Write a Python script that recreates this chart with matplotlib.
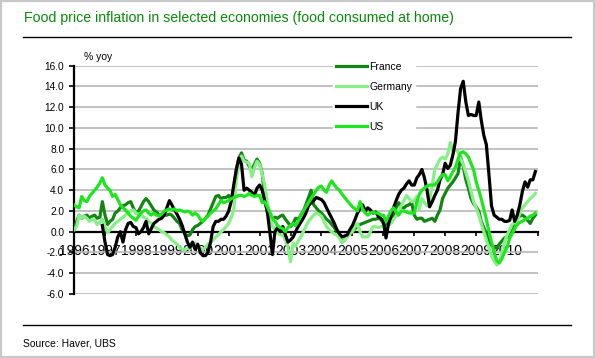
import numpy as np
import pandas as pd
import matplotlib
matplotlib.use("Agg")
import matplotlib.pyplot as plt
from matplotlib.lines import Line2D
from matplotlib.patches import Rectangle

plt.rcParams['font.family'] = ['Liberation Sans', 'DejaVu Sans']

# Monthly food price inflation, % yoy, Jan 1996 - Dec 2010
months = pd.date_range('1996-01-01', periods=180, freq='MS')

france = [
    0.2, 1.0, 1.6, 1.3, 1.5, 1.6, 1.3, 1.5, 1.6, 1.3, 1.4, 2.9,
    1.6, 0.7, 1.0, 1.2, 1.8, 2.0, 2.3, 2.5, 2.6, 2.8, 2.9, 2.3,
    1.8, 2.0, 2.4, 2.9, 3.2, 2.9, 2.5, 2.1, 1.9, 1.6, 1.5, 1.6,
    1.6, 1.7, 1.6, 1.3, 1.0, 0.8, 0.2, -0.2, -0.4, -0.3, 0.2, 0.5,
    0.6, 0.8, 1.0, 1.3, 1.6, 2.2, 2.8, 3.4, 3.5, 3.2, 3.3, 3.3,
    3.5, 3.0, 4.0, 6.0, 7.1, 7.6, 6.9, 6.8, 6.3, 6.0, 6.5, 7.0,
    6.6, 5.6, 3.4, 1.9, 1.3, 1.2, 1.4, 1.3, 1.5, 1.6, 1.2, 0.9,
    0.5, 0.8, 1.3, 1.2, 1.6, 2.0, 2.6, 3.3, 4.0, 2.6, 2.3, 2.0,
    1.8, 1.5, 1.2, 1.0, 0.7, 0.4, 0.0, -0.5, -1.0, -0.8, -0.4, 0.0,
    0.0, 0.3, 0.5, 0.7, 0.8, 0.9, 1.0, 1.1, 1.2, 1.2, 1.3, 1.2,
    0.8, 0.5, 0.9, 1.3, 1.6, 2.2, 2.8, 2.4, 2.3, 2.5, 2.6, 2.8,
    1.6, 1.2, 1.3, 1.3, 1.0, 1.1, 1.2, 1.3, 1.0, 1.6, 2.1, 3.2,
    3.7, 4.2, 4.5, 4.8, 5.2, 5.6, 7.2, 6.3, 5.0, 4.2, 3.2, 2.7,
    2.4, 2.0, 1.0, 0.4, -0.2, -0.8, -1.3, -1.5, -1.6, -1.2, -0.9, -0.6,
    -0.5, 0.0, 0.4, 0.9, 1.3, 1.5, 1.6, 1.4, 1.1, 0.8, 1.3, 1.6,
]

germany = [
    0.2, 0.5, 1.6, 1.3, 1.5, 1.3, 1.0, 1.2, 1.1, 0.7, 0.9, 1.2,
    0.5, -0.1, 0.2, 0.5, 0.8, 1.0, 1.2, 1.4, 1.6, 1.9, 2.0, 2.1,
    1.8, 1.7, 1.6, 1.4, 1.3, 1.0, 0.8, 0.5, 0.35, 0.2, 0.0, -0.1,
    -0.3, -0.5, -0.8, -1.0, -1.2, -1.5, -1.7, -1.7, -1.6, -1.6, -1.3, -1.1,
    -1.4, -1.6, -1.7, -1.5, -1.2, -1.0, -0.8, -0.5, -0.3, 0.0, 0.2, 0.5,
    0.8, 1.4, 2.1, 5.0, 6.5, 7.3, 6.8, 6.7, 6.6, 5.3, 6.2, 6.8,
    6.5, 5.5, 4.5, 3.0, 1.5, 0.5, 0.2, -0.1, -0.3, -0.3, -0.8, -1.5,
    -2.9, -1.1, -1.4, -0.9, -0.5, 0.0, 0.5, 1.0, 1.3, 1.6, 1.8, 1.7,
    1.5, 1.0, 0.5, 0.2, 0.0, -0.2, -0.3, -0.6, -1.0, -0.8, -0.5, -0.2,
    0.0, 0.5, 0.8, 0.0, -0.5, -0.5, -0.5, 0.0, 0.5, 0.5, 0.4, 0.5,
    0.5, 0.3, 0.6, 0.8, 1.2, 1.5, 2.2, 2.5, 3.0, 3.5, 3.2, 2.9,
    3.0, 3.4, 2.2, 3.2, 2.8, 2.5, 3.0, 4.5, 6.0, 6.5, 7.0, 7.2,
    7.0, 7.5, 8.6, 7.8, 7.9, 7.7, 7.0, 6.5, 5.7, 4.9, 3.9, 2.9,
    2.3, 1.6, 0.8, 0.0, -0.8, -1.6, -2.3, -2.8, -3.2, -3.0, -2.0, -1.0,
    -0.3, 0.2, 0.7, 0.9, 1.0, 1.8, 2.3, 2.6, 2.9, 3.2, 3.4, 3.7,
]

uk = [
    np.nan, np.nan, np.nan, np.nan, np.nan, np.nan, np.nan, np.nan, np.nan, np.nan, np.nan, 0.6,
    -1.0, -2.2, -2.3, -2.2, -1.5, -0.5, 0.0, -1.0, 0.2, 0.8, 0.9, 0.5,
    0.4, -0.2, 0.0, 0.4, 1.0, -0.2, 0.3, 0.8, 1.0, 1.2, 1.3, 1.6,
    2.3, 3.0, 2.6, 2.1, 1.7, 1.2, 0.6, -0.2, -1.0, -1.5, -1.0, -1.7,
    -1.2, -2.0, -2.3, -2.3, -2.0, -1.0, 0.5, 1.0, 1.0, 1.2, 1.2, 1.5,
    2.0, 3.0, 4.5, 6.0, 7.1, 6.5, 4.0, 4.2, 4.0, 3.8, 3.5, 4.2,
    4.5, 4.0, 3.0, 2.0, 0.0, -2.2, 0.0, 0.4, 0.0, 0.5, -0.3, -1.0,
    -0.8, -0.5, 0.0, 0.5, 0.9, 1.3, 1.8, 2.5, 2.8, 3.0, 3.3, 3.2,
    3.1, 2.8, 2.3, 1.8, 1.3, 0.8, 0.2, -0.2, -0.5, -0.4, -0.3, 0.2,
    0.6, 1.2, 1.8, 2.2, 2.6, 2.0, 2.3, 2.1, 1.8, 1.9, 1.5, 1.3,
    1.0, -0.6, 0.7, 1.5, 2.3, 3.0, 3.6, 4.0, 4.2, 4.6, 4.9, 4.5,
    4.5, 5.2, 5.5, 6.0, 5.2, 4.0, 2.4, 2.9, 3.5, 4.0, 5.0, 5.5,
    6.6, 6.1, 6.4, 7.4, 8.7, 11.5, 13.8, 14.5, 12.5, 11.2, 11.3, 11.2,
    11.2, 12.5, 10.8, 9.3, 8.4, 5.5, 2.5, 1.6, 1.4, 1.2, 1.2, 1.0,
    1.0, 1.1, 2.1, 1.0, 1.6, 2.6, 3.9, 4.8, 4.3, 5.0, 5.0, 5.8,
]

us = [
    2.6, 2.4, 2.3, 3.4, 3.0, 2.9, 3.4, 3.7, 4.0, 4.3, 4.7, 5.2,
    4.5, 4.2, 4.0, 3.4, 3.6, 3.1, 2.6, 2.3, 2.1, 1.8, 1.5, 1.3,
    1.1, 1.5, 1.8, 2.0, 2.1, 1.8, 1.6, 1.8, 1.6, 1.5, 1.7, 2.0,
    2.1, 2.2, 2.1, 2.2, 2.0, 2.1, 2.0, 1.9, 2.0, 1.9, 1.6, 1.8,
    1.6, 1.2, 1.0, 1.3, 1.5, 1.8, 2.0, 2.2, 2.6, 3.0, 2.8, 2.9,
    3.0, 3.2, 3.3, 3.4, 3.5, 3.5, 3.4, 3.5, 3.7, 3.5, 3.4, 3.5,
    3.5, 2.8, 2.9, 2.4, 1.9, 1.3, 1.0, 0.6, 0.4, 0.3, 0.0, 0.4,
    0.6, 0.8, 0.6, 1.0, 1.6, 2.0, 2.4, 2.8, 3.2, 3.6, 4.0, 4.3,
    4.4, 4.0, 3.8, 4.5, 4.9, 4.5, 4.2, 4.0, 3.6, 3.3, 3.0, 2.7,
    2.4, 2.2, 2.0, 2.9, 2.2, 1.8, 1.6, 1.8, 1.9, 1.8, 1.8, 1.6,
    1.6, 1.0, 1.5, 2.0, 2.3, 1.9, 1.6, 2.0, 2.0, 1.9, 1.8, 1.8,
    1.8, 2.9, 3.6, 4.0, 4.2, 4.4, 4.5, 4.5, 4.5, 4.8, 5.2, 5.5,
    5.5, 4.9, 5.3, 5.8, 6.2, 7.0, 7.6, 7.7, 7.5, 7.2, 6.6, 6.0,
    4.8, 4.0, 3.2, 2.2, 1.2, 0.0, -1.0, -2.0, -2.8, -3.0, -2.6, -2.0,
    -1.5, -0.6, -0.2, 0.3, 0.7, 0.9, 1.0, 1.2, 1.3, 1.5, 1.6, 1.8,
]

series = ['France', 'Germany', 'UK', 'US']
colors = ['#138513', '#86ef86', '#000000', '#1ee61e']
year_ticks = pd.date_range('1996-01-01', '2011-01-01', freq='YS')
year_labels = [str(y) for y in range(1996, 2011)] + ['']
y_ticks = np.arange(-6, 17, 2)

W, H = 595, 358
fig = plt.figure(figsize=(W / 100, H / 100), dpi=100)
ax = fig.add_axes([74 / W, 1 - 294 / H, 464 / W, (294 - 65.7) / H])

for name, vals, c in zip(series, [france, germany, uk, us], colors):
    ax.plot(months, vals, color=c, lw=2.3, label=name, zorder=3)

ax.set_xlim(year_ticks[0], year_ticks[-1])
ax.set_ylim(-6, 16)
ax.set_yticks(y_ticks)
ax.set_yticklabels(['%.1f' % v for v in y_ticks], fontsize=7.3)
ax.set_xticks(year_ticks)
ax.set_xticklabels(year_labels, fontsize=7.1)
ax.grid(axis='y', color='#b8b8b8', lw=1.2, zorder=1)
ax.set_axisbelow(True)

for s in ['top', 'right']:
    ax.spines[s].set_visible(False)
ax.spines['bottom'].set_position(('data', 0))
ax.spines['bottom'].set_linewidth(1.6)
ax.spines['bottom'].set_zorder(2.5)
ax.spines['left'].set_linewidth(1.6)
ax.tick_params(axis='y', direction='out', length=3.5, width=1.2, pad=3.5)
ax.tick_params(axis='x', direction='out', length=3, width=1.2, pad=6)

ax.text(84 / W, 1 - 57 / H, '% yoy', transform=fig.transFigure, fontsize=7.5, va='center')

leg = ax.legend(loc='upper left', bbox_to_anchor=(333 / W, 1 - 59 / H),
                bbox_transform=fig.transFigure, fontsize=7.5, frameon=True,
                handlelength=3.0, handletextpad=0.2, labelspacing=0.95,
                borderpad=0.3, borderaxespad=0, fancybox=False)
leg.get_frame().set_edgecolor('white')
leg.get_frame().set_facecolor('white')
leg.get_frame().set_alpha(1)

fig.text(24 / W, 1 - 18 / H, 'Food price inflation in selected economies (food consumed at home)',
         fontsize=10.2, color='#0a8a0a', va='center')
fig.add_artist(Line2D([23 / W, 571 / W], [1 - 37 / H] * 2, color='black', lw=1))
fig.add_artist(Line2D([23 / W, 571 / W], [1 - 325 / H] * 2, color='black', lw=1))
fig.text(23 / W, 1 - 343 / H, 'Source: Haver, UBS', fontsize=7.5, va='center')
fig.add_artist(Rectangle((0, 0), 1, 1, transform=fig.transFigure, fill=False,
                         edgecolor='#c8c8c8', lw=3))

fig.savefig('out.png', dpi=100)
